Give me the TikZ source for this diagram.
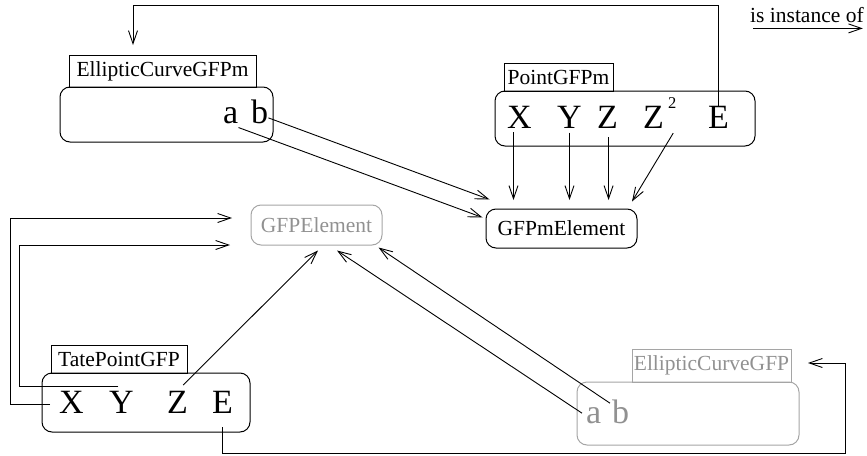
\documentclass[tikz,border=0pt]{standalone}
\usepackage{fontspec}
\setmainfont{Liberation Serif}
\usetikzlibrary{arrows.meta}
\definecolor{fgray}{RGB}{145,145,145}
\definecolor{bgray}{RGB}{165,165,165}
\tikzset{
  lbl/.style={draw, line width=1pt, inner sep=0pt, font=\fontsize{21.5}{24}\selectfont},
  cls/.style={draw, line width=1pt, rounded corners=10pt, inner sep=0pt},
  big/.style={inner sep=0pt, anchor=base west, font=\fontsize{34}{36}\selectfont},
  supnum/.style={inner sep=0pt, anchor=base west, font=\fontsize{16.5}{17}\selectfont},
  conn/.style={line width=0.9pt, -{Straight Barb[length=13pt,width=9pt]}},
  wire/.style={line width=0.9pt},
  faded/.style={draw=bgray, text=fgray}
}
\begin{document}
\begin{tikzpicture}[x=1pt,y=-1pt]
\useasboundingbox (0,0) rectangle (867,455);

% ---- EllipticCurveGFPm
\node[lbl, minimum width=187pt, minimum height=32pt] (ecmLbl) at (162.5,71) {EllipticCurveGFPm};
\node[cls, minimum width=213pt, minimum height=55pt] (ecm) at (166.5,114.5) {};
\node[big] (ea) at (223,123) {a};
\node[big] (eb) at (251,123) {b};

% ---- PointGFPm
\node[lbl, minimum width=109pt, minimum height=28pt] (pLbl) at (558.5,77) {PointGFPm};
\node[cls, minimum width=260pt, minimum height=55pt] (pgfpm) at (625,118.5) {};
\node[big] (pX) at (507,128) {X};
\node[big] (pY) at (557,128) {Y};
\node[big] (pZ) at (597,128) {Z};
\node[big] (pZZ) at (643,128) {Z};
\node[supnum] (p2) at (668,108.5) {2};
\node[big] (pE) at (708,128) {E};

% ---- GFPmElement
\node[cls, minimum width=151pt, minimum height=39pt, font=\fontsize{21.5}{24}\selectfont] (gm) at (561.5,228.5) {GFPmElement};

% ---- GFPElement (faded)
\node[cls, faded, minimum width=131pt, minimum height=40pt, font=\fontsize{21.5}{24}\selectfont] (ge) at (316.5,225) {GFPElement};

% ---- TatePointGFP
\node[lbl, minimum width=136pt, minimum height=28pt] (tLbl) at (119,359) {TatePointGFP};
\node[cls, minimum width=208pt, minimum height=59pt] (tate) at (146,402.5) {};
\node[big] (tX) at (59,413) {X};
\node[big] (tY) at (109,413) {Y};
\node[big] (tZ) at (167,413) {Z};
\node[big] (tE) at (212,413) {E};

% ---- EllipticCurveGFP (faded)
\node[lbl, faded, minimum width=159pt, minimum height=33pt] (ecgLbl) at (711.5,365.5) {EllipticCurveGFP};
\node[cls, faded, minimum width=222pt, minimum height=63pt] (ecg) at (688,413.5) {};
\node[big, text=fgray] (ga) at (586,423) {a};
\node[big, text=fgray] (gb) at (612,423) {b};

% ---- legend
\node[inner sep=0pt, anchor=base west, font=\fontsize{21.5}{24}\selectfont] (leg) at (750,23) {is instance of};
\draw[conn] ([xshift=3pt,yshift=-5pt]leg.south west) -- ([xshift=-1pt,yshift=-5pt]leg.south east);

% ---- helper coordinates
\coordinate (topR) at (718,5);
\coordinate (ecmIn) at (133,45);
\coordinate (gmTop) at (561.5,200);
\coordinate (L1) at (10,218);
\coordinate (geIn1) at (232,218);
\coordinate (L2) at (19,245);
\coordinate (geIn2) at (230,245);
\coordinate (B1) at (845,453);
\coordinate (R1) at (845,363);
\coordinate (ecgIn) at (808,363);

% ---- connectors
\draw[conn] (pE.north) -- (pE.north |- topR) -| (ecmIn);

\draw[conn] ([yshift=-6.5pt]eb.east) -- ([xshift=4pt,yshift=9pt]gm.north west);
\draw[conn] ([yshift=-4pt]ea.south east) -- ([xshift=-3pt,yshift=-9pt]gm.north west);

\draw[conn] ([xshift=-6pt,yshift=-4pt]pX.south) -- ([xshift=-6pt]pX.south |- gmTop);
\draw[conn] ([yshift=-4.5pt]pY.south) -- (pY.south |- gmTop);
\draw[conn] ([xshift=1pt,yshift=-9pt]pZ.south) -- ([xshift=1pt]pZ.south |- gmTop);
\draw[conn] ([xshift=9pt,yshift=-5pt]pZZ.south east) -- ([xshift=70.5pt,yshift=7pt]gm.north);

\draw[conn] ([xshift=-9pt,yshift=-2.5pt]tX.west) -| (L1) -- (geIn1);
\draw[conn] ([xshift=-3pt,yshift=4.5pt]tY.north) -| (L2) -- (geIn2);
\draw[conn] ([xshift=-5pt,yshift=5.5pt]tZ.north east) -- ([xshift=1.5pt,yshift=-5pt]ge.south);
\draw[conn] ([yshift=-14pt]tE.south) -- (tE.south |- B1) -| (R1) -- (ecgIn);

\draw[conn] ([xshift=-2pt,yshift=-4pt]gb.north west) -- ([xshift=-4pt,yshift=-2pt]ge.south east);
\draw[conn] ([xshift=-4pt,yshift=2pt]ga.west) -- ([xshift=20.5pt,yshift=-5pt]ge.south);
\end{tikzpicture}
\end{document}
